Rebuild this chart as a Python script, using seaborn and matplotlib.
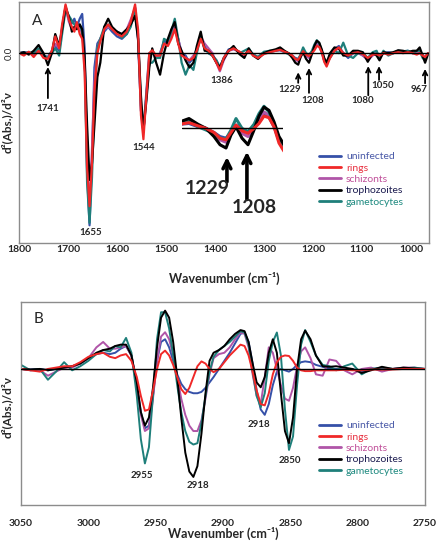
import pandas as pd
import seaborn as sns
import matplotlib.pyplot as plt
from matplotlib.lines import Line2D

# ---------------- panel A: 1800-965 cm-1 ----------------
wn_a = [1800, 1790, 1780, 1770, 1760, 1750, 1741, 1733, 1726, 1718,
        1712, 1705, 1698, 1692, 1687, 1682, 1676, 1671, 1666, 1661,
        1656, 1651, 1646, 1640, 1634, 1626, 1618, 1610, 1600, 1590,
        1580, 1572, 1563, 1557, 1551, 1546, 1540, 1534, 1528, 1520,
        1512, 1504, 1496, 1489, 1482, 1475, 1468, 1460, 1452, 1444,
        1437, 1429, 1421, 1413, 1405, 1397, 1390, 1382, 1372, 1362,
        1350, 1340, 1331, 1322, 1312, 1300, 1288, 1276, 1267, 1258,
        1250, 1242, 1236, 1230, 1225, 1220, 1214, 1208, 1202, 1197,
        1192, 1187, 1182, 1177, 1172, 1165, 1156, 1147, 1138, 1128,
        1118, 1108, 1098, 1088, 1078, 1070, 1064, 1056, 1046, 1036,
        1026, 1016, 1006, 996, 988, 982, 976, 971, 965]

uninfected_a = [0.0, 0.02, 0.0, -0.03, 0.05, -0.05, -0.08, 0.05, 0.15, 0.05,
                0.5, 0.95, 0.7, 0.62, 0.72, 0.55, 0.72, 0.82, 0.1, -2.5,
                -3.6, -2.2, -0.3, 0.2, 0.3, 0.45, 0.55, 0.45, 0.35, 0.3,
                0.4, 0.6, 0.95, 0.3, -1.2, -1.65, -0.8, 0.0, 0.02, -0.1,
                0.0, 0.25, 0.2, 0.35, 0.55, 0.3, 0.0, -0.05, -0.2, -0.1,
                0.1, 0.3, 0.15, 0.0, -0.05, -0.15, -0.3, -0.1, 0.08, 0.1,
                0.02, -0.05, 0.05, -0.02, -0.1, 0.0, 0.03, 0.05, 0.06, 0.02,
                0.0, -0.05, -0.1, -0.12, -0.05, 0.04, -0.02, -0.04, 0.02, 0.08,
                0.18, 0.14, 0.02, -0.15, -0.25, -0.05, 0.08, 0.15, 0.0, -0.1,
                0.0, 0.02, -0.05, -0.12, -0.02, 0.0, -0.08, 0.0, 0.02, 0.0,
                0.05, 0.03, 0.05, 0.0, 0.02, 0.05, -0.05, -0.1, 0.0]

rings_a = [0.0, -0.05, 0.03, -0.08, 0.05, -0.1, -0.12, 0.05, 0.35, 0.1,
           0.6, 1.02, 0.7, 0.55, 0.45, 0.65, 0.4, 0.3, -0.4, -2.4,
           -3.2, -2.3, -0.8, 0.0, 0.25, 0.5, 0.6, 0.5, 0.4, 0.35,
           0.45, 0.65, 1.02, 0.5, -1.3, -1.8, -0.9, 0.0, 0.06, -0.05,
           -0.05, 0.2, 0.15, 0.3, 0.5, 0.2, -0.05, -0.1, -0.15, -0.1,
           0.05, 0.3, 0.1, 0.05, -0.05, -0.2, -0.35, -0.1, 0.05, 0.1,
           0.03, -0.03, 0.05, -0.05, -0.1, -0.02, 0.02, 0.05, 0.07, 0.03,
           0.0, -0.05, -0.12, -0.14, -0.05, 0.04, -0.03, -0.06, 0.0, 0.06,
           0.15, 0.13, 0.02, -0.18, -0.28, -0.1, 0.05, 0.12, 0.0, -0.05,
           0.0, 0.02, -0.02, -0.1, -0.03, -0.02, -0.05, 0.0, -0.03, 0.0,
           0.02, 0.0, 0.02, 0.0, -0.03, 0.0, -0.05, -0.08, 0.0]

schizonts_a = [0.0, 0.0, 0.02, -0.05, 0.08, -0.05, -0.1, 0.0, 0.2, 0.1,
               0.55, 0.95, 0.65, 0.5, 0.5, 0.6, 0.55, 0.4, -0.1, -2.2,
               -3.3, -2.0, -0.6, 0.1, 0.3, 0.5, 0.55, 0.5, 0.45, 0.4,
               0.5, 0.7, 0.95, 0.3, -1.2, -1.65, -0.9, -0.1, 0.05, -0.1,
               0.0, 0.2, 0.2, 0.4, 0.6, 0.3, 0.0, -0.1, -0.15, -0.05,
               0.05, 0.35, 0.2, 0.1, 0.0, -0.2, -0.38, -0.15, 0.05, 0.08,
               0.03, -0.05, 0.05, -0.03, -0.08, 0.0, 0.03, 0.05, 0.08, 0.03,
               0.0, -0.07, -0.14, -0.17, -0.07, 0.03, -0.06, -0.1, 0.02, 0.1,
               0.2, 0.16, 0.04, -0.15, -0.25, -0.05, 0.05, 0.1, 0.0, -0.05,
               0.0, 0.0, -0.05, -0.15, -0.05, 0.0, -0.08, 0.0, 0.0, 0.0,
               0.03, 0.02, 0.02, 0.0, 0.0, 0.03, -0.05, -0.08, 0.0]

trophozoites_a = [0.0, 0.02, -0.03, 0.05, 0.17, 0.0, -0.25, 0.0, 0.4, 0.15,
                  0.5, 0.98, 0.75, 0.45, 0.55, 0.5, 0.6, 0.5, -0.1, -1.5,
                  -2.65, -2.3, -1.5, -0.5, -0.2, 0.55, 0.72, 0.55, 0.45, 0.4,
                  0.5, 0.6, 0.78, 0.3, -0.9, -1.6, -1.0, -0.3, 0.1, -0.2,
                  -0.45, 0.0, 0.3, 0.5, 0.65, 0.2, 0.05, -0.15, -0.3, -0.2,
                  0.15, 0.45, 0.05, 0.05, -0.05, -0.2, -0.3, -0.12, 0.05, 0.15,
                  -0.02, -0.1, 0.1, -0.05, -0.12, 0.0, 0.05, 0.08, 0.12, 0.05,
                  0.0, -0.1, -0.2, -0.24, -0.08, 0.02, -0.12, -0.2, -0.02, 0.15,
                  0.26, 0.22, 0.08, -0.1, -0.2, 0.0, 0.12, 0.1, -0.05, -0.05,
                  0.05, 0.05, 0.02, -0.18, 0.0, -0.05, -0.15, 0.02, 0.0, 0.02,
                  0.06, 0.05, 0.02, 0.05, 0.05, 0.12, -0.05, -0.2, -0.02]

gametocytes_a = [0.0, 0.0, 0.02, 0.0, 0.1, -0.05, -0.1, 0.0, 0.1, -0.05,
                 0.4, 0.9, 0.78, 0.68, 0.6, 0.55, 0.6, 0.45, -0.1, -2.7,
                 -3.55, -2.6, -1.0, 0.1, 0.3, 0.55, 0.6, 0.5, 0.45, 0.32,
                 0.4, 0.55, 0.9, 0.4, -1.1, -1.6, -0.9, -0.2, -0.2, -0.1,
                 -0.1, 0.3, 0.25, 0.45, 0.72, 0.3, -0.2, -0.45, -0.25, -0.35,
                 0.0, 0.35, 0.1, 0.0, -0.05, -0.15, -0.3, -0.1, 0.05, 0.12,
                 0.0, 0.05, 0.1, -0.03, -0.08, 0.03, 0.05, 0.05, 0.1, 0.02,
                 -0.02, -0.06, -0.12, -0.13, -0.02, 0.12, 0.0, -0.04, 0.05, 0.18,
                 0.27, 0.2, 0.05, -0.12, -0.22, -0.1, 0.05, 0.0, 0.22, -0.05,
                 -0.1, 0.0, 0.0, -0.1, 0.02, 0.05, -0.1, 0.05, -0.05, 0.0,
                 0.05, 0.04, 0.05, 0.0, 0.05, 0.05, -0.1, -0.15, 0.0]

# ---------------- panel B: 3050-2750 cm-1 ----------------
wn_b = [3050, 3043, 3036, 3030, 3024, 3018, 3012, 3006, 3000, 2994,
        2989, 2984, 2980, 2976, 2972, 2968, 2964, 2961, 2958, 2955,
        2952, 2949, 2946, 2943, 2940, 2937, 2934, 2931, 2928, 2925,
        2922, 2919, 2916, 2913, 2910, 2907, 2903, 2899, 2895, 2891,
        2887, 2884, 2881, 2878, 2875, 2872, 2869, 2866, 2863, 2860,
        2857, 2854, 2851, 2848, 2845, 2842, 2839, 2835, 2831, 2826,
        2821, 2816, 2810, 2804, 2797, 2790, 2782, 2774, 2766, 2758,
        2750]

uninfected_b = [0.0, -0.02, 0.0, -0.05, 0.0, 0.05, 0.1, 0.2, 0.4, 0.55,
                0.6, 0.55, 0.6, 0.75, 0.85, 0.5, -0.6, -1.6, -2.2, -2.1,
                -1.0, 0.3, 1.0, 1.1, 0.8, 0.3, -0.2, -0.55, -0.75, -0.85,
                -0.9, -0.9, -0.85, -0.7, -0.5, -0.3, 0.0, 0.3, 0.6, 0.95,
                1.3, 1.35, 1.0, 0.2, -0.8, -1.5, -1.7, -1.3, -0.6, -0.1,
                0.0, -0.05, -0.1, 0.0, 0.15, 0.25, 0.28, 0.25, 0.15, 0.08,
                0.02, 0.0, -0.02, 0.0, -0.1, 0.0, 0.02, 0.0, 0.02, 0.0,
                0.0]

rings_b = [0.0, -0.05, -0.1, 0.0, 0.05, 0.1, 0.1, 0.25, 0.45, 0.55,
           0.6, 0.45, 0.4, 0.5, 0.55, 0.3, -0.3, -1.0, -1.55, -1.5,
           -0.8, 0.0, 0.55, 0.68, 0.5, 0.15, -0.3, -0.75, -0.93, -0.7,
           -0.3, 0.1, 0.28, 0.2, 0.0, -0.12, 0.0, 0.25, 0.5, 0.7,
           0.9, 0.85, 0.5, -0.1, -0.8, -1.3, -1.35, -0.9, -0.2, 0.25,
           0.45, 0.5, 0.48, 0.3, 0.05, -0.05, -0.08, -0.08, -0.05, -0.05,
           -0.05, -0.05, -0.03, -0.05, -0.05, -0.02, -0.03, -0.02, 0.0, 0.0,
           0.0]

schizonts_b = [0.0, -0.05, -0.05, -0.25, -0.1, 0.05, 0.05, 0.2, 0.4, 0.8,
               1.0, 0.75, 0.75, 0.8, 0.85, 0.5, -0.6, -1.7, -2.3, -2.2,
               -1.1, 0.3, 1.2, 1.36, 1.1, 0.5, -0.3, -1.1, -1.7, -2.1,
               -2.3, -2.3, -1.9, -1.1, -0.2, 0.4, 0.55, 0.6, 0.8, 1.1,
               1.35, 1.3, 0.8, -0.2, -1.0, -1.3, -0.3, 0.8, 0.6, 0.0,
               -0.6, -1.1, -1.18, -0.7, 0.1, 0.65, 0.8, 0.4, -0.2, -0.25,
               0.35, 0.3, -0.05, -0.2, 0.0, 0.05, -0.1, 0.0, 0.05, 0.05,
               0.0]

trophozoites_b = [0.0, -0.02, 0.0, -0.05, 0.0, 0.05, 0.1, 0.2, 0.4, 0.6,
                  0.7, 0.75, 0.85, 0.9, 0.9, 0.5, -0.5, -1.6, -2.1, -1.8,
                  -0.7, 0.8, 1.9, 2.16, 1.9, 1.0, -0.3, -1.8, -3.1, -3.8,
                  -4.0, -3.6, -2.4, -0.9, 0.3, 0.6, 0.7, 0.85, 1.1, 1.3,
                  1.44, 1.4, 1.0, 0.2, -0.5, -0.68, -0.3, 0.6, 1.1, 0.6,
                  -0.9, -2.3, -2.75, -1.8, 0.0, 1.1, 1.42, 1.1, 0.5, 0.1,
                  0.08, 0.1, 0.05, 0.0, -0.15, -0.05, 0.08, 0.0, 0.05, 0.02,
                  0.0]

gametocytes_b = [0.15, -0.05, 0.0, -0.4, -0.1, 0.25, -0.05, 0.1, 0.3, 0.55,
                 0.7, 0.65, 0.85, 0.8, 1.15, 0.6, -1.0, -2.6, -3.5, -2.9,
                 -1.0, 1.1, 2.1, 2.1, 1.5, 0.5, -0.6, -1.6, -2.3, -2.7,
                 -2.8, -2.75, -2.0, -1.0, -0.1, 0.45, 0.7, 0.85, 1.0, 1.2,
                 1.4, 1.35, 0.9, -0.1, -1.0, -1.42, -0.9, 0.3, 1.0, 1.35,
                 0.5, -1.5, -3.0, -2.5, -0.6, 0.9, 1.44, 1.0, 0.5, 0.15,
                 0.1, -0.05, 0.1, 0.2, -0.2, 0.0, 0.05, 0.0, 0.02, 0.05,
                 0.0]

stages = ['uninfected', 'rings', 'schizonts', 'trophozoites', 'gametocytes']
line_colors = {'uninfected': '#3550a8', 'rings': '#f02828', 'schizonts': '#b055a8',
               'trophozoites': '#000000', 'gametocytes': '#1e7f7a'}
text_colors = ['#4a5aa8', '#e83040', '#c0509a', '#1c1c50', '#1e8a80']
draw_order = ['uninfected', 'schizonts', 'gametocytes', 'trophozoites', 'rings']

# peak labels
peaks_a = ['1741', '1655', '1544', '1386', '1229', '1208', '1080', '1050', '967']
peaks_b = ['2955', '2918', '2918', '2850']


def to_long(wn, series):
    frames = [pd.DataFrame({'wavenumber': wn, 'd2': vals, 'stage': name})
              for name, vals in zip(stages, series)]
    return pd.concat(frames, ignore_index=True)


df_a = to_long(wn_a, [uninfected_a, rings_a, schizonts_a, trophozoites_a, gametocytes_a])
df_b = to_long(wn_b, [uninfected_b, rings_b, schizonts_b, trophozoites_b, gametocytes_b])

sns.set_style('white')
plt.rcParams['font.family'] = ['Lato', 'DejaVu Sans']

W, H = 442, 542
fig = plt.figure(figsize=(W / 100, H / 100), dpi=100)
ax_a = fig.add_axes([19 / W, 1 - 243 / H, 410 / W, 241 / H])
ax_b = fig.add_axes([21 / W, 1 - 505 / H, 404 / W, 203 / H])


def draw(ax, df, lw):
    sns.lineplot(data=df, x='wavenumber', y='d2', hue='stage', hue_order=draw_order,
                 palette=line_colors, estimator=None, linewidth=lw, legend=False, ax=ax)
    ax.axhline(0, color='black', lw=1.0, zorder=5)


def style(ax):
    for s in ax.spines.values():
        s.set_color('#8c8c8c')
        s.set_linewidth(1.0)
    ax.tick_params(axis='both', direction='out', length=3, width=0.8, color='#8c8c8c',
                   labelsize=7.5)
    for t in ax.get_xticklabels():
        t.set_fontweight('bold')
    ax.set_xlabel('Wavenumber (cm⁻¹)', fontsize=9, fontweight='bold')
    ax.set_ylabel('d²(Abs.)/d²ν', fontsize=8.5, fontweight='bold')


def add_legend(ax, top_px):
    handles = [Line2D([], [], color=line_colors[s], lw=2) for s in stages]
    ax.legend(handles, stages, loc='upper left', frameon=False, fontsize=7.5,
              bbox_to_anchor=(319 / W, 1 - top_px / H), bbox_transform=fig.transFigure,
              borderpad=0, borderaxespad=0, handlelength=2.1, handletextpad=0.5,
              labelspacing=0.2, labelcolor=text_colors)


def arrow(ax, x, tip, tail, lw=1.3, scale=8):
    ax.annotate('', xy=(x, tip), xytext=(x, tail),
                arrowprops=dict(arrowstyle='->', color='black', lw=lw,
                                shrinkA=0, shrinkB=0, mutation_scale=scale))


# ---- panel A ----
draw(ax_a, df_a, 1.6)
ax_a.set_xlim(1800, 963)
ax_a.set_ylim(-3.97, 1.07)
ax_a.set_xticks(range(1800, 999, -100))
ax_a.set_yticks([-3, -2, -1, 0, 1], ['', '', '', '0.0', ''])
style(ax_a)
ax_a.tick_params(axis='x', direction='in', pad=1.5)
ax_a.tick_params(axis='y', pad=1)
for t in ax_a.get_yticklabels():
    t.set_rotation(90)
    t.set_va('center')
    t.set_fontsize(7)
ax_a.xaxis.set_label_coords(0.5, -29 / 241)
ax_a.yaxis.set_label_coords(-0.016, 0.5)
ax_a.text(0.032, 0.95, 'A', transform=ax_a.transAxes, fontsize=11, va='top')
add_legend(ax_a, 152)

lab = dict(fontsize=7, fontweight='bold', ha='center', va='center')
arrow(ax_a, 1741, -0.29, -0.94)
ax_a.text(1741, -1.15, peaks_a[0], **lab)
ax_a.text(1654, -3.75, peaks_a[1], **lab)
ax_a.text(1546, -1.98, peaks_a[2], **lab)
ax_a.text(1386, -0.58, peaks_a[3], **lab)
arrow(ax_a, 1230, -0.40, -0.62)
ax_a.text(1248, -0.76, peaks_a[4], **lab)
arrow(ax_a, 1208, -0.31, -0.83)
ax_a.text(1200, -0.98, peaks_a[5], **lab)
arrow(ax_a, 1087, -0.27, -0.88)
ax_a.text(1098, -0.98, peaks_a[6], **lab)
arrow(ax_a, 1065, -0.27, -0.56)
ax_a.text(1058, -0.67, peaks_a[7], **lab)
arrow(ax_a, 971, -0.33, -0.63)
ax_a.text(984, -0.75, peaks_a[8], **lab)

# inset: enlarged 1229 / 1208 region
ax_in = fig.add_axes([182 / W, 1 - 157 / H, 101 / W, 54 / H])
draw(ax_in, df_a, 2.2)
ax_in.set_xlim(1274, 1173)
ax_in.set_ylim(-0.35, 0.31)
ax_in.axis('off')
big = dict(fontsize=14, fontweight='bold', ha='center', va='center')
arrow(ax_a, 1375.5, -2.17, -2.69, lw=2.6, scale=14)
ax_a.text(1416, -2.83, '1229', **big)
arrow(ax_a, 1334.7, -2.06, -3.06, lw=2.6, scale=14)
ax_a.text(1320, -3.23, '1208', **big)

# ---- panel B ----
draw(ax_b, df_b, 1.4)
ax_b.set_xlim(3050, 2750)
ax_b.set_ylim(-5.04, 2.48)
ax_b.set_xticks(range(3050, 2749, -50))
ax_b.set_yticks(range(-5, 3), [''] * 8)
style(ax_b)
ax_b.tick_params(axis='x', pad=7)
ax_b.xaxis.set_label_coords(0.5, -22 / 203)
ax_b.yaxis.set_label_coords(-0.02, 0.48)
ax_b.text(0.032, 0.95, 'B', transform=ax_b.transAxes, fontsize=11, va='top')
add_legend(ax_b, 421)

ax_b.text(2960, -3.96, peaks_b[0], **lab)
ax_b.text(2919, -4.33, peaks_b[1], **lab)
ax_b.text(2873.5, -2.04, peaks_b[2], **lab)
ax_b.text(2850, -3.41, peaks_b[3], **lab)

fig.savefig('out.png', dpi=100)
